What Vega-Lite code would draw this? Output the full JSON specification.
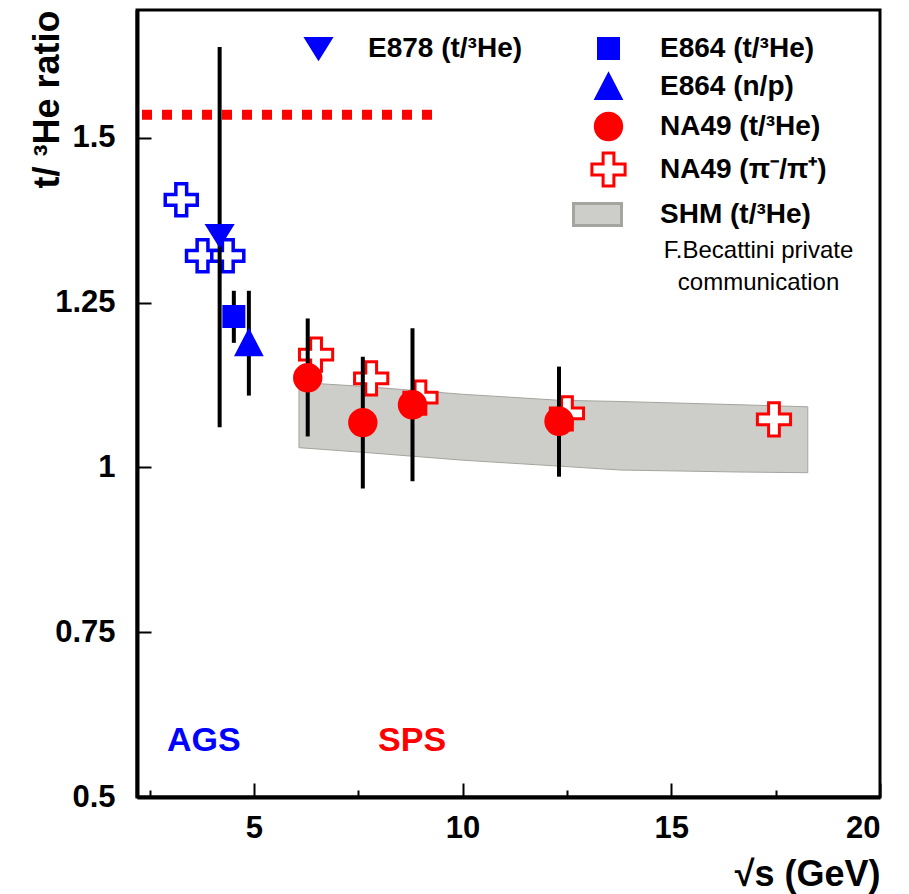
{
  "$schema": "https://vega.github.io/schema/vega-lite/v6.json",
  "width": 743,
  "height": 787,
  "autosize": {"type": "none"},
  "padding": {"left": 137, "top": 10, "right": 29, "bottom": 97},
  "background": "white",
  "config": {
    "view": {"stroke": "black", "strokeWidth": 3},
    "axis": {
      "grid": false,
      "domainColor": "black",
      "domainWidth": 4,
      "tickColor": "black",
      "tickWidth": 2,
      "labelFont": "Liberation Sans",
      "labelFontWeight": "bold",
      "labelFontSize": 31,
      "labelColor": "black",
      "titleFont": "Liberation Sans",
      "titleFontWeight": "bold",
      "titleColor": "black"
    },
    "text": {"font": "Liberation Sans"}
  },
  "datasets": {
    "shm": [
      {"x": 6.08, "lo": 1.030, "hi": 1.129},
      {"x": 7.6, "lo": 1.023, "hi": 1.123},
      {"x": 8.8, "lo": 1.017, "hi": 1.117},
      {"x": 10.0, "lo": 1.011, "hi": 1.111},
      {"x": 12.3, "lo": 1.002, "hi": 1.102},
      {"x": 13.8, "lo": 0.996, "hi": 1.100},
      {"x": 16.7, "lo": 0.993, "hi": 1.095},
      {"x": 18.27, "lo": 0.992, "hi": 1.092}
    ],
    "limit": [{"x": 2.32, "x2": 9.28, "y": 1.535}],
    "ags_pion": [
      {"x": 3.26, "y": 1.406},
      {"x": 3.77, "y": 1.321},
      {"x": 4.375, "y": 1.321}
    ],
    "errors": [
      {"x": 4.18, "lo": 1.061, "hi": 1.638},
      {"x": 4.52, "lo": 1.189, "hi": 1.268},
      {"x": 4.88, "lo": 1.109, "hi": 1.268},
      {"x": 6.29, "lo": 1.047, "hi": 1.226},
      {"x": 7.61, "lo": 0.968, "hi": 1.168},
      {"x": 8.80, "lo": 0.979, "hi": 1.211},
      {"x": 12.31, "lo": 0.986, "hi": 1.153}
    ],
    "pion": [
      {"series": "NA49 (π⁻/π⁺)", "x": 6.49, "y": 1.171},
      {"series": "NA49 (π⁻/π⁺)", "x": 7.81, "y": 1.135},
      {"series": "NA49 (π⁻/π⁺)", "x": 8.99, "y": 1.106},
      {"series": "NA49 (π⁻/π⁺)", "x": 12.50, "y": 1.082},
      {"series": "NA49 (π⁻/π⁺)", "x": 17.46, "y": 1.073}
    ],
    "ratio": [
      {"series": "E864 (t/³He)", "x": 4.52, "y": 1.229},
      {"series": "E864 (n/p)", "x": 4.88, "y": 1.189},
      {"series": "NA49 (t/³He)", "x": 6.29, "y": 1.136},
      {"series": "NA49 (t/³He)", "x": 7.61, "y": 1.068},
      {"series": "NA49 (t/³He)", "x": 8.80, "y": 1.095},
      {"series": "NA49 (t/³He)", "x": 12.31, "y": 1.070}
    ],
    "e878": [
      {"series": "E878 (t/³He)", "x": 4.18, "y": 1.352}
    ],
    "regions": [
      {"text": "AGS", "x": 3.80, "y": 0.585},
      {"text": "SPS", "x": 8.79, "y": 0.585}
    ],
    "note": [
      {"text": "F.Becattini private\ncommunication", "x": 17.09, "y": 1.329}
    ]
  },
  "layer": [
    {
      "data": {"name": "shm"},
      "mark": {"type": "area", "fill": "#cdcdc9", "stroke": "#a5a5a0", "strokeWidth": 1},
      "encoding": {
        "x": {
          "field": "x", "type": "quantitative",
          "scale": {"domain": [2.2, 20], "nice": false, "zero": false},
          "axis": {
            "values": [2.5, 5, 7.5, 10, 12.5, 15, 17.5, 20],
            "format": "~g",
            "labelExpr": "datum.value % 5 === 0 ? datum.label : ''",
            "tickSize": {"condition": {"test": "datum.value % 5 !== 0", "value": -7}, "value": -14},
            "labelPadding": 30,
            "labelOverlap": false,
            "title": "√s (GeV)",
            "titleFontSize": 36,
            "titleAnchor": "end",
            "titleAlign": "right",
            "titleBaseline": "alphabetic",
            "titleX": 743,
            "titleY": 88
          }
        },
        "y": {
          "field": "hi", "type": "quantitative",
          "scale": {"domain": [0.5, 1.694], "nice": false, "zero": false},
          "axis": {
            "values": [0.5, 0.75, 1, 1.25, 1.5],
            "format": "~g",
            "tickSize": -14,
            "labelPadding": 36,
            "labelOverlap": false,
            "title": "t/ ³He ratio",
            "titleFontSize": 36,
            "titleAngle": -90,
            "titleAlign": "right",
            "titleBaseline": "alphabetic",
            "titleX": -79,
            "titleY": 0
          }
        },
        "y2": {"field": "lo"}
      }
    },
    {
      "data": {"name": "limit"},
      "mark": {"type": "rule", "color": "#ff0000", "strokeWidth": 10, "strokeDash": [10, 10], "strokeCap": "butt"},
      "encoding": {
        "x": {"field": "x", "type": "quantitative"},
        "x2": {"field": "x2"},
        "y": {"field": "y", "type": "quantitative"}
      }
    },
    {
      "data": {"name": "ags_pion"},
      "mark": {
        "type": "point", "filled": false,
        "shape": "M-0.27,-0.8H0.27V-0.27H0.8V0.27H0.27V0.8H-0.27V0.27H-0.8V-0.27H-0.27Z",
        "size": 1600, "fill": "#ffffff", "fillOpacity": 1, "stroke": "#0000ff", "strokeWidth": 3.5, "opacity": 1
      },
      "encoding": {
        "x": {"field": "x", "type": "quantitative"},
        "y": {"field": "y", "type": "quantitative"}
      }
    },
    {
      "layer": [
        {
          "data": {"name": "pion"},
          "mark": {"type": "point", "size": 1600, "strokeWidth": 3, "opacity": 1, "fillOpacity": 1, "strokeOpacity": 1},
          "encoding": {
            "x": {"field": "x", "type": "quantitative"},
            "y": {"field": "y", "type": "quantitative"},
            "shape": {
              "field": "series", "type": "nominal",
              "scale": {
                "domain": ["E864 (t/³He)", "E864 (n/p)", "NA49 (t/³He)", "NA49 (π⁻/π⁺)", "SHM (t/³He)"],
                "range": [
                  "M-0.5,-0.5H0.5V0.5H-0.5Z",
                  "M0,-0.6L0.62,0.6L-0.62,0.6Z",
                  "M0.66,0A0.66,0.66 0 1,1 -0.66,0A0.66,0.66 0 1,1 0.66,0Z",
                  "M-0.27,-0.83H0.27V-0.27H0.83V0.27H0.27V0.83H-0.27V0.27H-0.83V-0.27H-0.27Z",
                  "M-1.75,-0.55H0.65V0.55H-1.75Z"
                ]
              },
              "legend": {
                "orient": "none", "legendX": 450, "legendY": 17, "title": null,
                "symbolSize": 1600, "symbolStrokeWidth": 3,
                "labelFont": "Liberation Sans", "labelFontSize": 28, "labelFontWeight": "bold",
                "labelColor": "black", "labelOffset": 30, "labelLimit": 400,
                "rowPadding": 0, "padding": 0
              }
            },
            "fill": {
              "field": "series", "type": "nominal",
              "scale": {
                "domain": ["E864 (t/³He)", "E864 (n/p)", "NA49 (t/³He)", "NA49 (π⁻/π⁺)", "SHM (t/³He)"],
                "range": ["#0000ff", "#0000ff", "#ff0000", "#ffffff", "#cdcdc9"]
              },
              "legend": {
                "orient": "none", "legendX": 450, "legendY": 17, "title": null,
                "symbolSize": 1600, "symbolStrokeWidth": 3,
                "labelFont": "Liberation Sans", "labelFontSize": 28, "labelFontWeight": "bold",
                "labelColor": "black", "labelOffset": 30, "labelLimit": 400,
                "rowPadding": 0, "padding": 0
              }
            },
            "stroke": {
              "field": "series", "type": "nominal",
              "scale": {
                "domain": ["E864 (t/³He)", "E864 (n/p)", "NA49 (t/³He)", "NA49 (π⁻/π⁺)", "SHM (t/³He)"],
                "range": ["#0000ff", "#0000ff", "#ff0000", "#ff0000", "#a5a5a0"]
              },
              "legend": {
                "orient": "none", "legendX": 450, "legendY": 17, "title": null,
                "symbolSize": 1600, "symbolStrokeWidth": 3,
                "labelFont": "Liberation Sans", "labelFontSize": 28, "labelFontWeight": "bold",
                "labelColor": "black", "labelOffset": 30, "labelLimit": 400,
                "rowPadding": 0, "padding": 0
              }
            }
          }
        },
        {
          "data": {"name": "errors"},
          "mark": {"type": "rule", "color": "black", "strokeWidth": 4},
          "encoding": {
            "x": {"field": "x", "type": "quantitative"},
            "y": {"field": "lo", "type": "quantitative"},
            "y2": {"field": "hi"}
          }
        },
        {
          "data": {"name": "ratio"},
          "mark": {"type": "point", "size": 1600, "strokeWidth": 3, "opacity": 1, "fillOpacity": 1, "strokeOpacity": 1},
          "encoding": {
            "x": {"field": "x", "type": "quantitative"},
            "y": {"field": "y", "type": "quantitative"},
            "shape": {"field": "series", "type": "nominal"},
            "fill": {"field": "series", "type": "nominal"},
            "stroke": {"field": "series", "type": "nominal"}
          }
        }
      ]
    },
    {
      "data": {"name": "e878"},
      "mark": {"type": "point", "size": 1600, "strokeWidth": 3, "opacity": 1, "fillOpacity": 1, "strokeOpacity": 1},
      "encoding": {
        "x": {"field": "x", "type": "quantitative"},
        "y": {"field": "y", "type": "quantitative"},
        "shape": {
          "field": "series", "type": "nominal",
          "scale": {"domain": ["E878 (t/³He)"], "range": ["M-0.62,-0.5L0.62,-0.5L0,0.5Z"]},
          "legend": {
            "orient": "none", "legendX": 160, "legendY": 17, "title": null,
            "symbolSize": 1600, "symbolStrokeWidth": 3,
            "labelFont": "Liberation Sans", "labelFontSize": 28, "labelFontWeight": "bold",
            "labelColor": "black", "labelOffset": 28, "labelLimit": 400,
            "rowPadding": 0, "padding": 0
          }
        },
        "fill": {
          "field": "series", "type": "nominal",
          "scale": {"domain": ["E878 (t/³He)"], "range": ["#0000ff"]},
          "legend": {
            "orient": "none", "legendX": 160, "legendY": 17, "title": null,
            "symbolSize": 1600, "symbolStrokeWidth": 3,
            "labelFont": "Liberation Sans", "labelFontSize": 28, "labelFontWeight": "bold",
            "labelColor": "black", "labelOffset": 28, "labelLimit": 400,
            "rowPadding": 0, "padding": 0
          }
        },
        "stroke": {
          "field": "series", "type": "nominal",
          "scale": {"domain": ["E878 (t/³He)"], "range": ["#0000ff"]},
          "legend": {
            "orient": "none", "legendX": 160, "legendY": 17, "title": null,
            "symbolSize": 1600, "symbolStrokeWidth": 3,
            "labelFont": "Liberation Sans", "labelFontSize": 28, "labelFontWeight": "bold",
            "labelColor": "black", "labelOffset": 28, "labelLimit": 400,
            "rowPadding": 0, "padding": 0
          }
        }
      }
    },
    {
      "data": {"name": "regions"},
      "mark": {"type": "text", "fontSize": 34, "fontWeight": "bold", "align": "center", "baseline": "middle"},
      "encoding": {
        "x": {"field": "x", "type": "quantitative"},
        "y": {"field": "y", "type": "quantitative"},
        "text": {"field": "text"},
        "color": {"condition": {"test": "datum.text === 'AGS'", "value": "#0000ff"}, "value": "#ff0000"}
      }
    },
    {
      "data": {"name": "note"},
      "mark": {"type": "text", "fontSize": 24, "align": "center", "baseline": "middle", "lineBreak": "\n", "lineHeight": 32, "color": "black"},
      "encoding": {
        "x": {"field": "x", "type": "quantitative"},
        "y": {"field": "y", "type": "quantitative"},
        "text": {"field": "text"}
      }
    }
  ],
  "resolve": {"scale": {"shape": "independent", "fill": "independent", "stroke": "independent"}}
}
